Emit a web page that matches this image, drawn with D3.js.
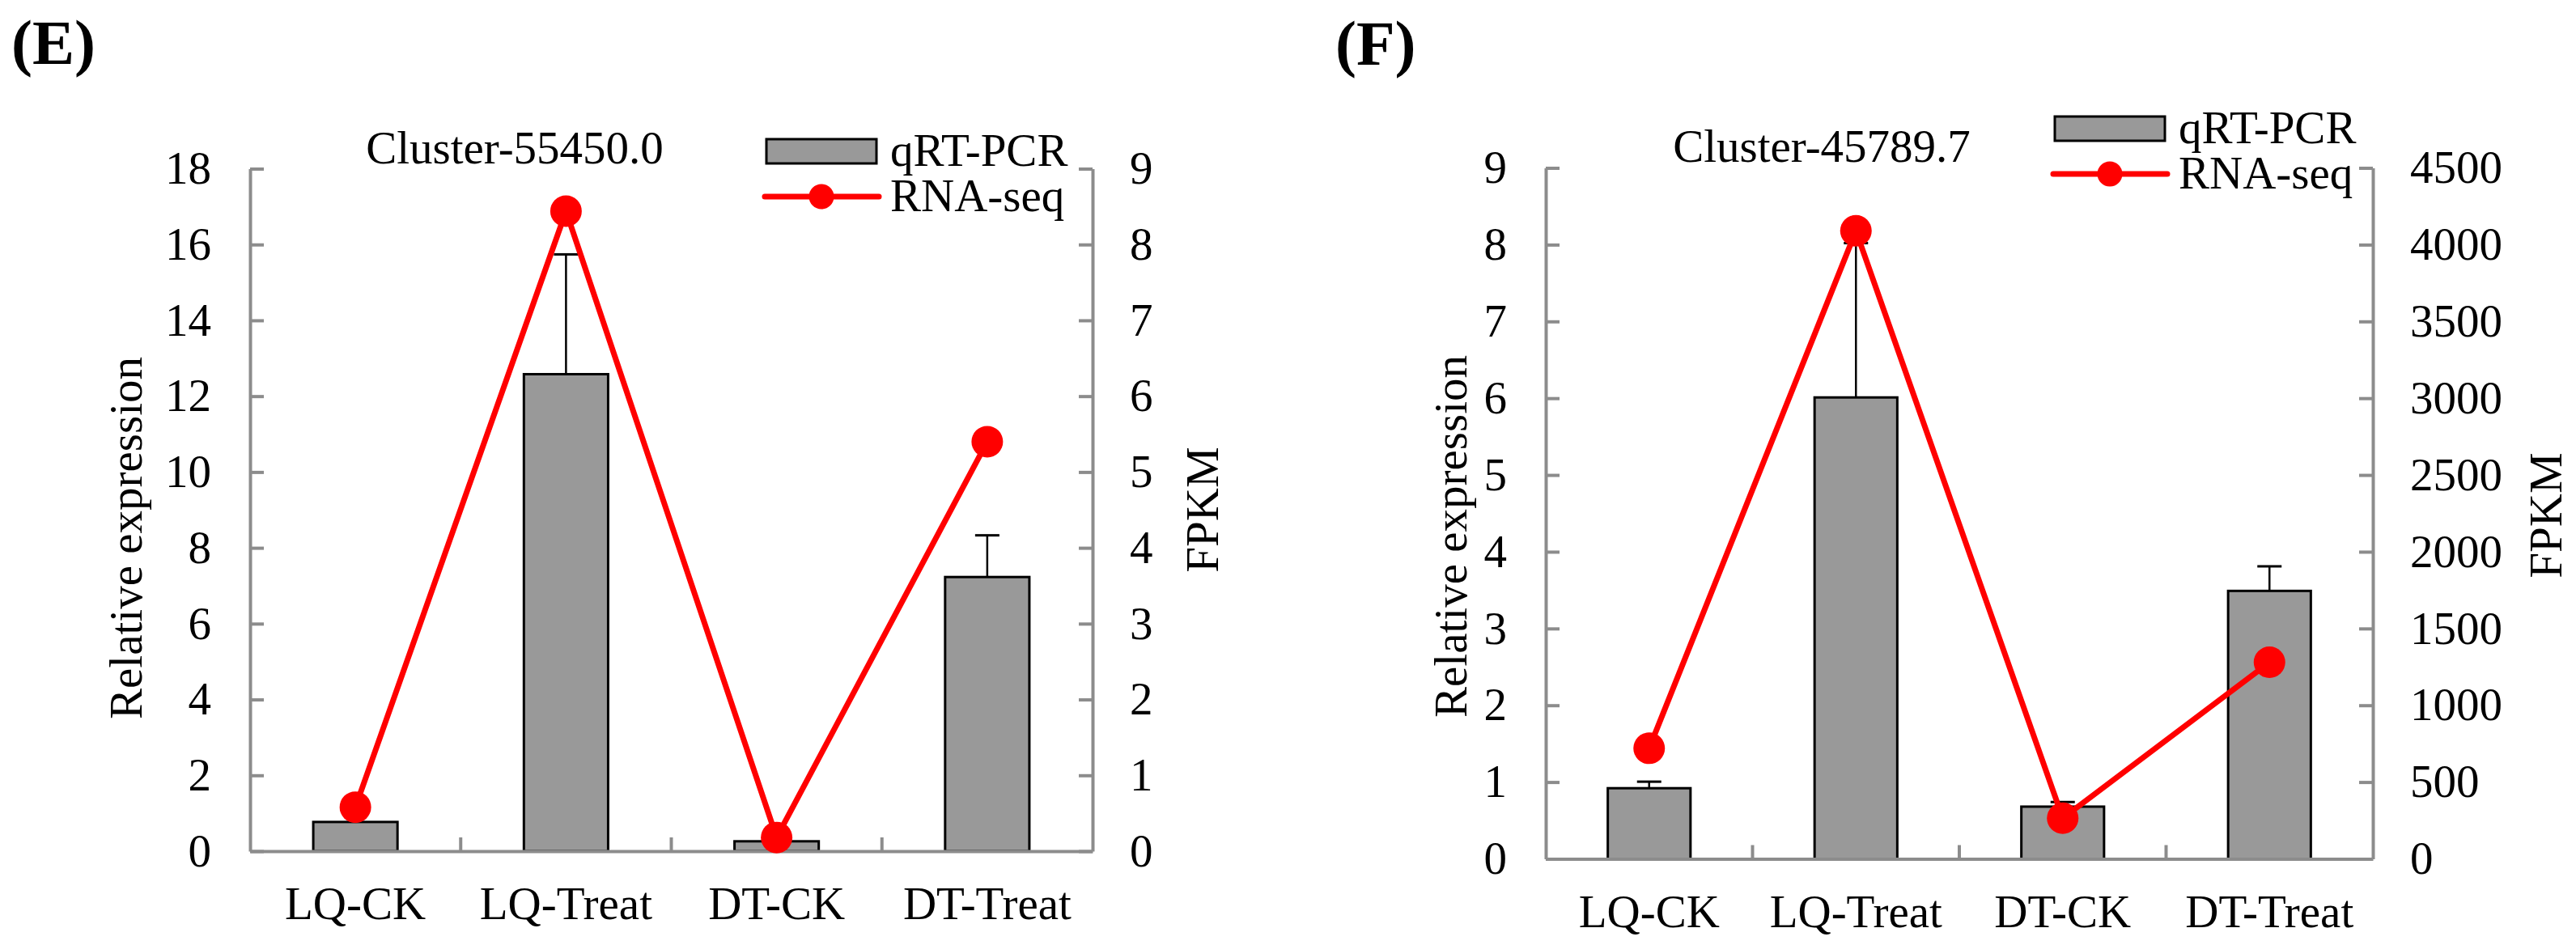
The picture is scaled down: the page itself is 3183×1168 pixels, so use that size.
<!DOCTYPE html>
<html>
<head>
<meta charset="utf-8">
<script src="https://cdn.jsdelivr.net/npm/d3@7"></script>
<style>
  html, body { margin: 0; padding: 0; background: #fff; }
</style>
</head>
<body>
<svg id="chart" width="3183" height="1168"></svg>
<script>
// categories and values
const categories = ["LQ-CK", "LQ-Treat", "DT-CK", "DT-Treat"];

// panel E - Cluster-55450.0
const qpcrE = [0.77, 12.58, 0.26, 7.23];
const qpcrErrE = [0, 3.16, 0, 1.10];
const fpkmE = [0.58, 8.44, 0.18, 5.40];
const leftTicksE = [0, 2, 4, 6, 8, 10, 12, 14, 16, 18];
const rightTicksE = [0, 1, 2, 3, 4, 5, 6, 7, 8, 9];

// panel F - Cluster-45789.7
const qpcrF = [0.92, 6.01, 0.68, 3.49];
const qpcrErrF = [0.085, 2.01, 0.06, 0.32];
const fpkmF = [720, 4090, 265, 1280];
const leftTicksF = [0, 1, 2, 3, 4, 5, 6, 7, 8, 9];
const rightTicksF = [0, 500, 1000, 1500, 2000, 2500, 3000, 3500, 4000, 4500];

const legendLabels = ["qRT-PCR", "RNA-seq"];

const SERIF = "'Liberation Serif', 'Times New Roman', Times, serif";
const svg = d3.select("#chart").style("font-family", SERIF);
const FONT = 57;
const AXIS = "#8c8c8c";
const BAR = "#999999";
const RED = "#ff0000";

function drawPanel(p) {
    const g = svg.append("g");

    // scales
    const x = d3.scaleBand().domain(categories).range([p.left, p.right]).padding(0);
    const bw = x.bandwidth() * 0.4;
    const cx = c => x(c) + x.bandwidth() / 2;
    const yL = d3.scaleLinear().domain([0, d3.max(p.leftTicks)]).range([p.bottom, p.top]);
    const yR = d3.scaleLinear().domain([0, d3.max(p.rightTicks)]).range([p.bottom, p.top]);

    // bars
    g.selectAll(".bar")
        .data(categories)
        .join("rect")
        .attr("x", c => cx(c) - bw / 2)
        .attr("y", (c, i) => yL(p.qpcr[i]))
        .attr("width", bw)
        .attr("height", (c, i) => p.bottom - yL(p.qpcr[i]))
        .attr("fill", BAR)
        .attr("stroke", "#000")
        .attr("stroke-width", 3);

    // error bars (upper only)
    const errTop = c => { const i = categories.indexOf(c); return yL(p.qpcr[i] + p.err[i]); };
    const err = g.selectAll(".err")
        .data(categories.filter((c, i) => p.err[i] > 0))
        .join("g");
    err.append("line")
        .attr("x1", cx).attr("x2", cx)
        .attr("y1", c => yL(p.qpcr[categories.indexOf(c)]))
        .attr("y2", errTop)
        .attr("stroke", "#000").attr("stroke-width", 2.5);
    err.append("line")
        .attr("x1", c => cx(c) - 15).attr("x2", c => cx(c) + 15)
        .attr("y1", errTop).attr("y2", errTop)
        .attr("stroke", "#000").attr("stroke-width", 3);

    // axes
    const styleAxis = sel => {
        sel.attr("font-size", FONT).attr("font-family", SERIF);
        sel.selectAll("text").style("font-family", SERIF).attr("fill", "#000");
        sel.select(".domain").attr("stroke", AXIS).attr("stroke-width", 4);
        sel.selectAll(".tick line").attr("stroke", AXIS).attr("stroke-width", 4);
    };
    g.append("g")
        .attr("transform", `translate(${p.left},0)`)
        .call(d3.axisLeft(yL).tickValues(p.leftTicks).tickFormat(d3.format("d"))
            .tickSizeInner(-17).tickSizeOuter(0).tickPadding(48))
        .call(styleAxis);
    g.append("g")
        .attr("transform", `translate(${p.right},0)`)
        .call(d3.axisRight(yR).tickValues(p.rightTicks).tickFormat(d3.format("d"))
            .tickSizeInner(-17).tickSizeOuter(0).tickPadding(46))
        .call(styleAxis);
    g.append("g")
        .attr("transform", `translate(0,${p.bottom})`)
        .call(d3.axisBottom(x).tickSize(0).tickPadding(44))
        .call(styleAxis);
    // category separators
    g.selectAll(".sep")
        .data(categories.slice(1))
        .join("line")
        .attr("x1", c => x(c)).attr("x2", c => x(c))
        .attr("y1", p.bottom).attr("y2", p.bottom - 17)
        .attr("stroke", AXIS).attr("stroke-width", 4);

    // RNA-seq line
    const line = d3.line().x(d => cx(d.c)).y(d => yR(d.v));
    const pts = categories.map((c, i) => ({c: c, v: p.fpkm[i]}));
    g.append("path")
        .datum(pts)
        .attr("d", line)
        .attr("fill", "none")
        .attr("stroke", RED)
        .attr("stroke-width", 7)
        .attr("stroke-linejoin", "round");
    g.selectAll(".dot")
        .data(pts)
        .join("circle")
        .attr("cx", d => cx(d.c))
        .attr("cy", d => yR(d.v))
        .attr("r", 19.5)
        .attr("fill", RED);

    // texts
    const txt = (sel) => sel.style("font-family", SERIF).attr("fill", "#000");
    g.append("text").attr("x", p.labelX).attr("y", p.labelY)
        .attr("font-size", 78).attr("font-weight", "bold").text(p.label).call(txt);
    g.append("text").attr("x", p.titleX).attr("y", p.titleY)
        .attr("text-anchor", "middle").attr("font-size", FONT).text(p.title).call(txt);
    g.append("text")
        .attr("transform", `translate(${p.ylabX},${p.ylabY}) rotate(-90)`)
        .attr("text-anchor", "middle").attr("font-size", FONT).text("Relative expression").call(txt);
    g.append("text")
        .attr("transform", `translate(${p.y2labX},${p.y2labY}) rotate(-90)`)
        .attr("text-anchor", "middle").attr("font-size", FONT).text("FPKM").call(txt);

    // legend
    const lg = p.legend;
    g.append("rect")
        .attr("x", lg.x).attr("y", lg.y).attr("width", 136).attr("height", 30)
        .attr("fill", BAR).attr("stroke", "#000").attr("stroke-width", 3);
    g.append("line")
        .attr("x1", lg.x - 2).attr("x2", lg.x + 139)
        .attr("y1", lg.y + 71).attr("y2", lg.y + 71)
        .attr("stroke", RED).attr("stroke-width", 7).attr("stroke-linecap", "round");
    g.append("circle")
        .attr("cx", lg.x + 68).attr("cy", lg.y + 71).attr("r", 15.5).attr("fill", RED);
    g.selectAll(".lgtext")
        .data(legendLabels)
        .join("text")
        .attr("x", lg.x + 153)
        .attr("y", (d, i) => lg.y + 33 + i * 56)
        .attr("font-size", FONT)
        .text(d => d)
        .call(txt);
}

drawPanel({
    label: "(E)", labelX: 14, labelY: 79,
    title: "Cluster-55450.0", titleX: 636, titleY: 202,
    left: 309, right: 1350, top: 208.5, bottom: 1052,
    qpcr: qpcrE, err: qpcrErrE, fpkm: fpkmE,
    leftTicks: leftTicksE, rightTicks: rightTicksE,
    ylabX: 175, ylabY: 665, y2labX: 1505, y2labY: 630,
    legend: {x: 947, y: 172}
});

drawPanel({
    label: "(F)", labelX: 1650, labelY: 80,
    title: "Cluster-45789.7", titleX: 2251, titleY: 200,
    left: 1910, right: 2932, top: 207.5, bottom: 1061.5,
    qpcr: qpcrF, err: qpcrErrF, fpkm: fpkmF,
    leftTicks: leftTicksF, rightTicks: rightTicksF,
    ylabX: 1812, ylabY: 663, y2labX: 3165, y2labY: 637,
    legend: {x: 2539, y: 144}
});
</script>
</body>
</html>
